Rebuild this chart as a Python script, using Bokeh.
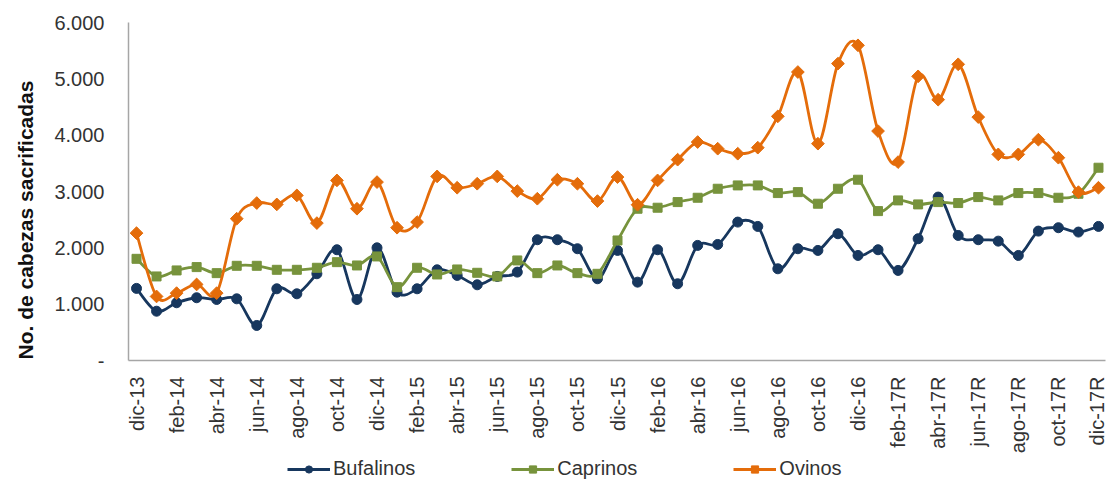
import numpy as np
from bokeh.plotting import figure
from bokeh.layouts import column
from bokeh.models import FixedTicker, Legend, LegendItem, Range1d, Title
from bokeh.embed import file_html
from bokeh.resources import INLINE

months = ["dic-13",
          "ene-14", "feb-14", "mar-14", "abr-14", "may-14", "jun-14",
          "jul-14", "ago-14", "sep-14", "oct-14", "nov-14", "dic-14",
          "ene-15", "feb-15", "mar-15", "abr-15", "may-15", "jun-15",
          "jul-15", "ago-15", "sep-15", "oct-15", "nov-15", "dic-15",
          "ene-16", "feb-16", "mar-16", "abr-16", "may-16", "jun-16",
          "jul-16", "ago-16", "sep-16", "oct-16", "nov-16", "dic-16",
          "ene-17R", "feb-17R", "mar-17R", "abr-17R", "may-17R", "jun-17R",
          "jul-17R", "ago-17R", "sep-17R", "oct-17R", "nov-17R", "dic-17R"]

bufalinos = [1280,
             875, 1025, 1114, 1083, 1095, 622, 1273, 1184, 1540, 1966, 1083, 2000,
             1213, 1273, 1610, 1510, 1344, 1492, 1569, 2144, 2144, 1984, 1451, 1954,
             1391, 1966, 1362, 2043, 2060, 2457, 2380, 1628, 1984, 1954, 2250, 1865,
             1966, 1599, 2161, 2901, 2220, 2144, 2119, 1865, 2297, 2357, 2280, 2380]

caprinos = [1805,
            1492, 1599, 1658, 1551, 1681, 1681, 1610, 1610, 1646, 1746, 1687, 1847,
            1302, 1646, 1527, 1616, 1557, 1492, 1776, 1551, 1687, 1551, 1539, 2131,
            2694, 2712, 2812, 2889, 3049, 3108, 3108, 2972, 2989, 2783, 3049, 3209,
            2652, 2842, 2771, 2812, 2795, 2901, 2842, 2972, 2972, 2889, 2960, 3422]

ovinos = [2261,
          1137, 1196, 1350, 1196, 2517, 2795, 2771, 2931, 2439, 3197, 2694, 3167,
          2357, 2457, 3268, 3067, 3138, 3268, 3007, 2872, 3209, 3138, 2830, 3256,
          2765, 3197, 3565, 3878, 3760, 3671, 3778, 4334, 5121, 3849, 5270, 5595,
          4073, 3522, 5044, 4630, 5258, 4321, 3659, 3659, 3920, 3600, 2989, 3067]

series_names = ["Bufalinos", "Caprinos", "Ovinos"]
colors = ["#17375E", "#77933C", "#E46C0A"]
y_ticks = [0, 1000, 2000, 3000, 4000, 5000, 6000]
y_tick_labels = ["-", "1.000", "2.000", "3.000", "4.000", "5.000", "6.000"]

FONT = "Liberation Sans"


def smooth_segments(ys):
    """Excel-style smoothed line: cubic Bezier control points per segment."""
    x = np.arange(len(ys), dtype=float)
    y = np.asarray(ys, dtype=float)
    n = len(x)
    xp = np.concatenate([[x[0]], x, [x[-1]]])
    yp = np.concatenate([[y[0]], y, [y[-1]]])
    return dict(
        x0=x[:-1], y0=y[:-1], x1=x[1:], y1=y[1:],
        cx0=x[:-1] + (xp[2:n + 1] - xp[0:n - 1]) / 6.0,
        cy0=y[:-1] + (yp[2:n + 1] - yp[0:n - 1]) / 6.0,
        cx1=x[1:] - (xp[3:n + 2] - xp[1:n]) / 6.0,
        cy1=y[1:] - (yp[3:n + 2] - yp[1:n]) / 6.0,
    )


def marker_style(name, col):
    if name == "Bufalinos":
        return dict(marker="circle", size=10, fill_color=col, line_color=col)
    if name == "Caprinos":
        return dict(marker="square", size=9, fill_color=col, line_color=col)
    return dict(marker="square", size=9, angle=np.pi / 4, fill_color=col, line_color=col)


p = figure(width=1107, height=456, output_backend="svg", toolbar_location=None,
           x_range=Range1d(-0.4, 48.35), y_range=Range1d(0, 6000),
           min_border_left=126, min_border_top=22, min_border_right=2,
           min_border_bottom=96)
p.xgrid.visible = False
p.ygrid.visible = False
p.outline_line_color = None

# y axis
p.yaxis.ticker = FixedTicker(ticks=y_ticks)
p.yaxis.major_label_overrides = {t: l for t, l in zip(y_ticks, y_tick_labels)}
p.yaxis.major_tick_line_color = None
p.yaxis.minor_tick_line_color = None
p.yaxis.major_tick_out = 0
p.yaxis.major_label_standoff = 24
p.yaxis.axis_line_color = "#A6A6A6"
p.yaxis.axis_line_width = 1.5
p.yaxis.major_label_text_font = FONT
p.yaxis.major_label_text_font_size = "20px"
p.yaxis.major_label_text_color = "#333333"

# x axis
xt = list(range(0, len(months), 2))
p.xaxis.ticker = FixedTicker(ticks=xt)
p.xaxis.major_label_overrides = {i: months[i] for i in xt}
p.xaxis.major_label_orientation = np.pi / 2
p.xaxis.major_tick_line_color = None
p.xaxis.minor_tick_line_color = None
p.xaxis.major_tick_out = 0
p.xaxis.major_label_standoff = 16
p.xaxis.axis_line_color = "#A6A6A6"
p.xaxis.axis_line_width = 1.5
p.xaxis.major_label_text_font = FONT
p.xaxis.major_label_text_font_size = "20px"
p.xaxis.major_label_text_color = "#333333"

ytitle = Title(text="No. de cabezas sacrificadas", align="left", offset=1,
               vertical_align="top", standoff=26,
               text_font=FONT, text_font_size="21px", text_font_style="bold",
               text_color="#111111")
p.add_layout(ytitle, "left")

xs = list(range(len(months)))
for name, vals, col in zip(series_names, [bufalinos, caprinos, ovinos], colors):
    seg = smooth_segments(vals)
    p.bezier(x0=seg["x0"], y0=seg["y0"], x1=seg["x1"], y1=seg["y1"],
             cx0=seg["cx0"], cy0=seg["cy0"], cx1=seg["cx1"], cy1=seg["cy1"],
             line_color=col, line_width=2.8)
    p.scatter(xs, vals, **marker_style(name, col))

# legend strip below the chart (its glyphs sit outside the strip's range)
pl = figure(width=1107, height=24, output_backend="svg", toolbar_location=None,
            x_range=Range1d(0, 1), y_range=Range1d(0, 1),
            min_border_left=0, min_border_right=0, min_border_top=0,
            min_border_bottom=0)
pl.axis.visible = False
pl.xgrid.visible = False
pl.ygrid.visible = False
pl.outline_line_color = None

items = []
for name, col in zip(series_names, colors):
    ln = pl.line(x=[-5, -4], y=[-5, -5], line_color=col, line_width=2.8)
    st = marker_style(name, col)
    st["size"] = st["size"] * 0.75
    sc = pl.scatter(x=[-5], y=[-5], **st)
    items.append(LegendItem(label=name, renderers=[ln, sc]))

legend = Legend(items=items, orientation="horizontal", location=(159, 0),
                spacing=96, glyph_width=43, glyph_height=18, label_standoff=3,
                padding=0, margin=0, border_line_color=None,
                background_fill_alpha=0, label_text_font=FONT,
                label_text_font_size="20px", label_text_color="#333333")
pl.add_layout(legend, "center")

open("out.html", "w").write(file_html(column(p, pl, spacing=0), INLINE))
